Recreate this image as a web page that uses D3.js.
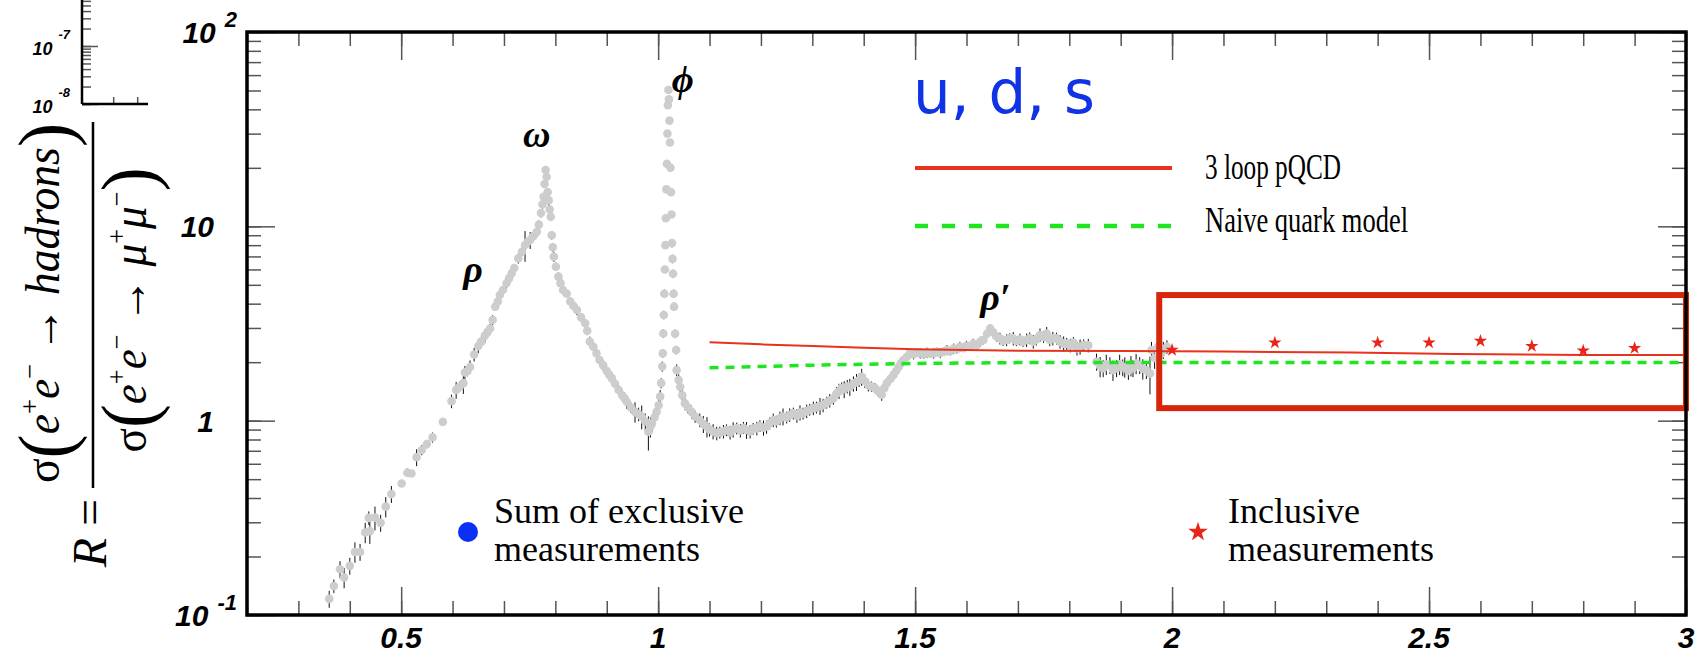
<!DOCTYPE html>
<html lang="en">
<head>
<meta charset="UTF-8">
<title>R ratio, u d s region</title>
<script src="https://d3js.org/d3.v7.min.js"></script>
<style>
    body { margin: 0; background: #fff; }
    svg { display: block; }
    .tick-label { font-family: "Liberation Sans", Arial, sans-serif; font-weight: bold; font-style: italic; fill: #000; }
    .serif { font-family: "Liberation Serif", "Times New Roman", serif; fill: #000; }
    .greek { font-family: "Liberation Serif", serif; font-style: italic; font-weight: bold; fill: #000; }
</style>
</head>
<body>
<div id="chart"></div>
<script>
    const width = 1701, height = 657;

    // sum of exclusive measurements: [sqrt(s) in GeV, R, relative error]
    const exclusive = [
        [0.360,0.121,0.10],[0.369,0.141,0.08],[0.381,0.172,0.10],[0.389,0.156,0.12],[0.400,0.179,0.10],[0.410,0.211,0.12],
        [0.420,0.211,0.10],[0.430,0.266,0.12],[0.437,0.316,0.08],[0.439,0.270,0.14],[0.449,0.317,0.14],[0.460,0.298,0.10],
        [0.470,0.361,0.12],[0.481,0.419,0.10],[0.501,0.475,0.04],[0.512,0.540,0.05],[0.520,0.535,0.04],[0.530,0.648,0.10],
        [0.540,0.706,0.06],[0.550,0.758,0.05],[0.561,0.82,0.06],[0.581,0.986,0.04],[0.598,1.26,0.08],[0.607,1.44,0.10],
        [0.614,1.50,0.06],[0.621,1.56,0.12],[0.624,1.77,0.08],[0.629,1.80,0.06],[0.634,1.89,0.08],[0.642,2.19,0.08],
        [0.650,2.42,0.08],[0.656,2.55,0.06],[0.663,2.74,0.08],[0.668,2.85,0.05],[0.673,2.98,0.06],
        [0.678,3.30,0.06],[0.683,3.86,0.05],[0.688,4.10,0.05],[0.692,4.43,0.06],[0.698,4.70,0.05],[0.705,5.09,0.06],
        [0.710,5.40,0.05],[0.715,5.73,0.05],[0.720,6.10,0.05],[0.728,6.84,0.06],[0.735,7.40,0.05],[0.741,8.01,0.18],
        [0.746,8.30,0.06],[0.751,8.50,0.10],[0.757,8.90,0.05],[0.764,9.38,0.06],[0.768,10.2,0.05],[0.772,11.7,0.05],
        [0.775,13.0,0.05],[0.777,14.2,0.04],[0.779,16.5,0.04],[0.781,19.5,0.03],[0.783,18.0,0.04],[0.785,15.0,0.05],
        [0.787,13.6,0.06],[0.789,12.2,0.05],[0.791,11.2,0.05],
        [0.793,9.0,0.05],[0.795,7.8,0.05],[0.797,6.98,0.06],[0.801,6.20,0.05],[0.806,5.51,0.05],[0.810,5.10,0.04],
        [0.815,4.70,0.05],[0.822,4.50,0.04],[0.829,4.10,0.05],[0.835,3.90,0.04],[0.842,3.71,0.06],[0.850,3.40,0.05],
        [0.858,3.17,0.05],[0.862,2.90,0.05],[0.867,2.55,0.06],[0.874,2.40,0.05],[0.880,2.22,0.06],[0.886,2.05,0.05],
        [0.893,1.93,0.06],[0.900,1.80,0.05],[0.905,1.72,0.06],[0.910,1.65,0.06],[0.916,1.55,0.05],[0.923,1.44,0.06],
        [0.930,1.35,0.06],[0.935,1.30,0.05],[0.939,1.25,0.08],[0.947,1.17,0.06],[0.955,1.11,0.12],[0.962,1.08,0.08],
        [0.968,1.05,0.14],[0.975,0.99,0.10],[0.981,0.877,0.20],[0.985,0.93,0.12],[0.988,0.968,0.10],[0.993,1.04,0.10],
        [0.997,1.11,0.08],[1.001,1.20,0.08],[1.004,1.33,0.08],[1.006,1.56,0.06],[1.008,1.90,0.06],[1.009,2.22,0.05],
        [1.010,2.81,0.05],[1.011,3.50,0.05],
        [1.012,4.5,0.05],[1.013,6.0,0.04],[1.014,8.0,0.04],[1.015,11.0,0.04],[1.016,15.5,0.03],[1.017,21.0,0.03],
        [1.018,30.0,0.03],[1.019,42.0,0.03],[1.020,50.3,0.03],[1.021,45.0,0.03],[1.022,35.0,0.03],[1.023,27.0,0.03],
        [1.024,20.0,0.03],[1.025,15.0,0.04],[1.026,11.5,0.04],[1.027,8.2,0.05],[1.028,6.8,0.05],[1.029,5.7,0.05],
        [1.030,4.5,0.05],[1.031,3.86,0.05],[1.033,2.80,0.05],[1.035,2.31,0.05],
        [1.036,1.82,0.07],[1.040,1.62,0.07],[1.043,1.49,0.08],[1.047,1.35,0.07],[1.052,1.23,0.08],[1.058,1.17,0.07],
        [1.065,1.11,0.08],[1.072,1.05,0.07],[1.081,1.007,0.08],[1.088,0.96,0.10],[1.095,0.931,0.12],[1.100,0.90,0.08],
        [1.107,0.88,0.09],[1.114,0.861,0.08],[1.120,0.87,0.07],[1.127,0.88,0.08],[1.133,0.895,0.07],[1.140,0.87,0.08],
        [1.146,0.90,0.09],[1.153,0.913,0.07],[1.160,0.89,0.08],[1.166,0.92,0.07],[1.172,0.895,0.10],[1.179,0.88,0.08],
        [1.185,0.91,0.07],[1.192,0.913,0.08],[1.198,0.94,0.07],[1.205,0.92,0.09],[1.211,0.931,0.08],[1.217,0.97,0.07],
        [1.224,1.007,0.08],[1.230,0.99,0.07],[1.237,1.03,0.08],[1.243,1.05,0.10],[1.250,1.04,0.07],[1.256,1.07,0.08],
        [1.263,1.09,0.07],[1.270,1.06,0.08],[1.276,1.10,0.09],[1.282,1.09,0.07],[1.289,1.12,0.08],[1.295,1.14,0.07],
        [1.302,1.16,0.08],[1.308,1.17,0.07],[1.315,1.19,0.10],[1.321,1.20,0.08],[1.328,1.24,0.07],[1.334,1.27,0.08],
        [1.341,1.30,0.07],[1.347,1.38,0.08],[1.352,1.42,0.09],[1.357,1.47,0.07],[1.362,1.45,0.10],[1.368,1.50,0.08],
        [1.373,1.49,0.10],[1.380,1.55,0.09],[1.386,1.58,0.10],[1.391,1.62,0.08],[1.396,1.68,0.10],[1.402,1.60,0.08],
        [1.409,1.52,0.07],[1.415,1.50,0.06],[1.422,1.47,0.06],[1.428,1.42,0.06],[1.435,1.36,0.07],[1.440,1.47,0.06],
        [1.445,1.56,0.06],[1.452,1.64,0.06],[1.458,1.72,0.06],[1.463,1.80,0.06],[1.468,1.89,0.05],[1.472,1.97,0.05],
        [1.477,2.05,0.05],[1.484,2.13,0.05],[1.490,2.22,0.05],[1.497,2.20,0.06],[1.503,2.24,0.05],[1.510,2.22,0.06],
        [1.517,2.19,0.05],[1.523,2.24,0.06],[1.530,2.21,0.05],[1.536,2.22,0.06],[1.543,2.26,0.05],[1.549,2.23,0.06],
        [1.556,2.27,0.05],[1.562,2.31,0.06],[1.568,2.28,0.05],[1.575,2.35,0.06],[1.581,2.33,0.05],[1.587,2.40,0.06],
        [1.594,2.37,0.05],[1.600,2.43,0.06],[1.607,2.41,0.05],[1.613,2.49,0.06],[1.620,2.45,0.05],[1.627,2.55,0.06],
        [1.633,2.60,0.05],[1.640,2.80,0.05],[1.646,2.98,0.05],[1.652,2.85,0.06],[1.658,2.72,0.06],[1.665,2.65,0.07],
        [1.671,2.58,0.06],[1.678,2.60,0.07],[1.684,2.66,0.06],[1.691,2.65,0.08],[1.697,2.57,0.06],[1.704,2.62,0.07],
        [1.710,2.55,0.06],[1.717,2.60,0.08],[1.723,2.66,0.07],[1.730,2.55,0.08],[1.736,2.62,0.07],[1.743,2.76,0.08],
        [1.750,2.70,0.07],[1.756,2.81,0.08],[1.762,2.60,0.07],[1.768,2.65,0.08],[1.775,2.65,0.07],[1.782,2.55,0.08],
        [1.789,2.49,0.09],[1.795,2.49,0.07],[1.802,2.44,0.08],[1.808,2.52,0.07],[1.815,2.35,0.08],[1.821,2.40,0.09],
        [1.828,2.45,0.07],[1.837,2.44,0.08],
        [1.853,2.01,0.10],[1.860,1.90,0.12],[1.866,1.86,0.10],[1.872,1.95,0.12],[1.879,1.93,0.10],[1.885,1.82,0.12],
        [1.892,1.86,0.10],[1.898,1.95,0.12],[1.904,1.88,0.10],[1.908,1.89,0.12],[1.915,1.80,0.10],[1.920,1.92,0.12],
        [1.924,1.86,0.10],[1.930,1.97,0.12],[1.937,1.93,0.10],[1.943,1.85,0.12],[1.950,1.82,0.10],[1.957,1.75,0.22],
        [1.960,2.31,0.10],[1.966,2.10,0.12],[1.973,2.40,0.10],[1.978,2.20,0.12],[1.983,2.31,0.10],[1.990,2.40,0.08]
    ];

    // inclusive measurements
    const inclusiveE = [2.0, 2.2, 2.4, 2.5, 2.6, 2.7, 2.8, 2.9];
    const inclusiveR = [2.31, 2.52, 2.52, 2.52, 2.57, 2.42, 2.29, 2.36];

    // 3 loop pQCD
    const pqcdE = [1.1, 1.2, 1.3, 1.4, 1.5, 1.6, 1.7, 1.9, 2.1, 2.35, 2.55, 2.8, 3.0];
    const pqcdR = [2.53, 2.47, 2.42, 2.37, 2.33, 2.31, 2.29, 2.28, 2.27, 2.24, 2.20, 2.18, 2.18];

    // naive quark model
    const naiveE = [1.1, 1.3, 1.5, 1.7, 2.0, 3.0];
    const naiveR = [1.87, 1.93, 1.97, 1.99, 1.99, 1.99];

    // highlighted region
    const boxE = [1.975, 3.0];
    const boxR = [1.16, 4.43];

    // resonance labels
    const resonanceNames = ["\u03C1", "\u03C9", "\u03D5", "\u03C1\u2032"];
    const resonanceE = [0.640, 0.764, 1.048, 1.656];
    const resonanceR = [5.16, 25.6, 49.1, 3.71];

    // tick labels
    const xTickLabels = [0.5, 1, 1.5, 2, 2.5, 3];
    const yTickValues = [0.1, 1, 10, 100];
    const yTickBase = ["10", "1", "10", "10"];
    const yTickSup = ["-1", "", "", "2"];

    // leftover piece of a neighbouring plot (top left)
    const insetYLabels = [1e-8, 1e-7];
    const insetYSup = ["-8", "-7"];
    const insetXTicks = [1, 2];

    const svg = d3.select("#chart").append("svg")
        .attr("width", width)
        .attr("height", height);

    const x = d3.scaleLinear().domain([0.2, 3]).range([247, 1686]);
    const y = d3.scaleLog().domain([0.1, 100]).range([615, 32]);
    const [x0, x1] = x.range();
    const [yb, yt] = y.range();

    svg.append("clipPath").attr("id", "plot-clip")
        .append("rect")
        .attr("x", x0).attr("y", yt)
        .attr("width", x1 - x0).attr("height", yb - yt);

    // ---- ticks (all pointing inward) ----
    const xMinor = x.ticks(28);
    const xMajor = x.ticks(6);
    const yAll = y.ticks();
    const yMajor = yAll.filter(d => Math.abs(Math.log10(d) - Math.round(Math.log10(d))) < 1e-6);

    function styleTicks(g) {
        g.select(".domain").remove();
        g.selectAll(".tick line").attr("stroke", "#555").attr("stroke-width", 1.5);
        g.selectAll(".tick text").remove();
    }

    [[d3.axisBottom, yb], [d3.axisTop, yt]].forEach(([ax, pos]) => {
        svg.append("g").attr("transform", `translate(0,${pos})`)
            .call(ax(x).tickValues(xMinor).tickSize(-14)).call(styleTicks);
        svg.append("g").attr("transform", `translate(0,${pos})`)
            .call(ax(x).tickValues(xMajor).tickSize(-28)).call(styleTicks);
    });
    [[d3.axisLeft, x0], [d3.axisRight, x1]].forEach(([ax, pos]) => {
        svg.append("g").attr("transform", `translate(${pos},0)`)
            .call(ax(y).tickValues(yAll).tickSize(-14)).call(styleTicks);
        svg.append("g").attr("transform", `translate(${pos},0)`)
            .call(ax(y).tickValues(yMajor).tickSize(-28)).call(styleTicks);
    });

    // x tick labels
    svg.append("g").selectAll("text")
        .data(xTickLabels)
        .enter().append("text")
        .attr("class", "tick-label")
        .attr("x", d => x(d))
        .attr("y", 648)
        .attr("text-anchor", "middle")
        .attr("font-size", 30)
        .text(d3.format("~g"));

    // y tick labels
    yTickValues.forEach((v, i) => {
        const t = svg.append("text")
            .attr("class", "tick-label")
            .attr("x", yTickSup[i] ? 237 : 214)
            .attr("y", y(v) + 11)
            .attr("text-anchor", "end")
            .attr("font-size", 30);
        t.append("tspan").text(yTickBase[i]);
        if (yTickSup[i]) {
            t.append("tspan").attr("dx", 9).attr("dy", -16).attr("font-size", 22).text(yTickSup[i]);
        }
    });

    // ---- data ----
    const plot = svg.append("g").attr("clip-path", "url(#plot-clip)");

    const line = d3.line().x(d => x(d[0])).y(d => y(d[1]));

    plot.append("g").selectAll("line")
        .data(exclusive)
        .enter().append("line")
        .attr("x1", d => x(d[0])).attr("x2", d => x(d[0]))
        .attr("y1", d => y(d[1] * (1 + d[2])))
        .attr("y2", d => y(d[1] * (1 - d[2])))
        .attr("stroke", "#111")
        .attr("stroke-width", 1);

    plot.append("g").selectAll("circle")
        .data(exclusive)
        .enter().append("circle")
        .attr("cx", d => x(d[0]))
        .attr("cy", d => y(d[1]))
        .attr("r", 4.3)
        .attr("fill", "#cdcdcd");

    plot.append("path")
        .datum(d3.zip(naiveE, naiveR))
        .attr("d", line)
        .attr("fill", "none")
        .attr("stroke", "#1ee61e")
        .attr("stroke-width", 3.5)
        .attr("stroke-dasharray", "9,7");

    plot.append("path")
        .datum(d3.zip(pqcdE, pqcdR))
        .attr("d", line)
        .attr("fill", "none")
        .attr("stroke", "#e8321e")
        .attr("stroke-width", 2);

    const star = d3.symbol().type(d3.symbolStar);

    plot.append("g").selectAll("path")
        .data(d3.zip(inclusiveE, inclusiveR))
        .enter().append("path")
        .attr("transform", d => `translate(${x(d[0])},${y(d[1])})`)
        .attr("d", star.size(55)())
        .attr("fill", "#e8251a");

    svg.append("rect")
        .attr("x", x(boxE[0]))
        .attr("y", y(boxR[1]))
        .attr("width", x(boxE[1]) - x(boxE[0]))
        .attr("height", y(boxR[0]) - y(boxR[1]))
        .attr("fill", "none")
        .attr("stroke", "#d8260a")
        .attr("stroke-width", 6);

    // frame
    svg.append("rect")
        .attr("x", x0).attr("y", yt)
        .attr("width", x1 - x0).attr("height", yb - yt)
        .attr("fill", "none")
        .attr("stroke", "#000")
        .attr("stroke-width", 3.5);

    // resonance names
    svg.append("g").selectAll("text")
        .data(resonanceNames)
        .enter().append("text")
        .attr("class", "greek")
        .attr("x", (d, i) => x(resonanceE[i]))
        .attr("y", (d, i) => y(resonanceR[i]))
        .attr("text-anchor", "middle")
        .attr("font-size", 38)
        .text(d => d);

    // ---- legends ----
    svg.append("text")
        .attr("x", 913).attr("y", 113)
        .attr("font-family", "'DejaVu Sans', sans-serif")
        .attr("font-size", 60)
        .attr("fill", "#1133e6")
        .attr("textLength", 182)
        .attr("lengthAdjust", "spacingAndGlyphs")
        .text("u, d, s");

    svg.append("line")
        .attr("x1", 915).attr("x2", 1172).attr("y1", 168).attr("y2", 168)
        .attr("stroke", "#e8321e").attr("stroke-width", 4);
    svg.append("line")
        .attr("x1", 915).attr("x2", 1172).attr("y1", 226).attr("y2", 226)
        .attr("stroke", "#1ee61e").attr("stroke-width", 4.5)
        .attr("stroke-dasharray", "13,14");

    svg.append("text").attr("class", "serif")
        .attr("x", 1205).attr("y", 179).attr("font-size", 35)
        .attr("textLength", 136).attr("lengthAdjust", "spacingAndGlyphs")
        .text("3 loop pQCD");
    svg.append("text").attr("class", "serif")
        .attr("x", 1205).attr("y", 232).attr("font-size", 35)
        .attr("textLength", 203).attr("lengthAdjust", "spacingAndGlyphs")
        .text("Naive quark model");

    svg.append("circle")
        .attr("cx", 468).attr("cy", 532).attr("r", 10)
        .attr("fill", "#0b2ff5");
    svg.append("text").attr("class", "serif")
        .attr("x", 494).attr("y", 523).attr("font-size", 36)
        .text("Sum of exclusive");
    svg.append("text").attr("class", "serif")
        .attr("x", 494).attr("y", 561).attr("font-size", 36)
        .text("measurements");

    svg.append("path")
        .attr("transform", "translate(1198,532)")
        .attr("d", star.size(120)())
        .attr("fill", "#e8251a");
    svg.append("text").attr("class", "serif")
        .attr("x", 1228).attr("y", 523).attr("font-size", 36)
        .text("Inclusive");
    svg.append("text").attr("class", "serif")
        .attr("x", 1228).attr("y", 561).attr("font-size", 36)
        .text("measurements");

    // ---- y axis title: R = sigma(e+e- -> hadrons) / sigma(e+e- -> mu+mu-) ----
    function addParts(text, parts) {
        parts.forEach(p => {
            const t = text.append("tspan").text(p.t);
            if (p.fs) t.attr("font-size", p.fs);
            if (p.dy) t.attr("dy", p.dy);
            if (p.fw) t.attr("font-weight", p.fw);
            t.attr("font-style", p.it ? "italic" : "normal");
        });
    }

    const num = svg.append("text").attr("class", "serif")
        .attr("transform", "translate(59,303) rotate(-90)")
        .attr("text-anchor", "middle")
        .attr("font-size", 48)
        .attr("textLength", 360)
        .attr("lengthAdjust", "spacingAndGlyphs");
    addParts(num, [
        { t: "\u03C3" },
        { t: "(", fs: 76, dy: 12, fw: 300 },
        { t: "e", it: 1, fs: 48, dy: -12 },
        { t: "+", fs: 28, dy: -20 },
        { t: "e", it: 1, fs: 48, dy: 20 },
        { t: "\u2212", fs: 28, dy: -20 },
        { t: " \u2192 ", fs: 48, dy: 20 },
        { t: "hadrons", it: 1, fs: 48 },
        { t: ")", fs: 76, dy: 12, fw: 300 }
    ]);

    const den = svg.append("text").attr("class", "serif")
        .attr("transform", "translate(146,310) rotate(-90)")
        .attr("text-anchor", "middle")
        .attr("font-size", 48)
        .attr("textLength", 285)
        .attr("lengthAdjust", "spacingAndGlyphs");
    addParts(den, [
        { t: "\u03C3" },
        { t: "(", fs: 76, dy: 8, fw: 300 },
        { t: "e", it: 1, fs: 48, dy: -8 },
        { t: "+", fs: 28, dy: -20 },
        { t: "e", it: 1, fs: 48, dy: 20 },
        { t: "\u2212", fs: 28, dy: -20 },
        { t: " \u2192 ", fs: 48, dy: 20 },
        { t: "\u03BC", it: 1, fs: 48 },
        { t: "+", fs: 28, dy: -20 },
        { t: "\u03BC", it: 1, fs: 48, dy: 20 },
        { t: "\u2212", fs: 28, dy: -20 },
        { t: ")", fs: 76, dy: 28, fw: 300 }
    ]);

    svg.append("line")
        .attr("x1", 93).attr("x2", 93).attr("y1", 122).attr("y2", 488)
        .attr("stroke", "#000").attr("stroke-width", 2.5);

    const req = svg.append("text").attr("class", "serif")
        .attr("transform", "translate(106,533) rotate(-90)")
        .attr("text-anchor", "middle")
        .attr("font-size", 48);
    addParts(req, [{ t: "R", it: 1 }, { t: " =" }]);

    // ---- inset fragment top left ----
    const insetY = d3.scaleLog().domain([1e-8, 1e-7]).range([104, 46]);
    const insetX = d3.scaleLinear().domain([-0.3, 2.45]).range([82, 148]);
    const insetTicks = d3.scaleLog().domain([1e-8, 6e-7]).ticks();

    const inset = svg.append("g");
    inset.append("g").attr("transform", "translate(82,0)")
        .call(d3.axisLeft(insetY).tickValues(insetTicks).tickSize(-9)).call(styleTicks);
    inset.append("g").attr("transform", "translate(82,0)")
        .call(d3.axisLeft(insetY).tickValues(insetYLabels).tickSize(-16)).call(styleTicks);
    inset.append("g").attr("transform", "translate(0,104)")
        .call(d3.axisBottom(insetX).tickValues(insetXTicks).tickSize(-7)).call(styleTicks);
    inset.append("line").attr("x1", 82).attr("x2", 82).attr("y1", 0).attr("y2", 104)
        .attr("stroke", "#000").attr("stroke-width", 2.5);
    inset.append("line").attr("x1", 82).attr("x2", 148).attr("y1", 104).attr("y2", 104)
        .attr("stroke", "#000").attr("stroke-width", 2.5);

    insetYLabels.forEach((v, i) => {
        const t = inset.append("text")
            .attr("class", "tick-label")
            .attr("x", 70)
            .attr("y", insetY(v) + 9)
            .attr("text-anchor", "end")
            .attr("font-size", 18);
        t.append("tspan").text("10");
        t.append("tspan").attr("dx", 6).attr("dy", -16).attr("font-size", 13).text(insetYSup[i]);
    });
</script>
</body>
</html>
